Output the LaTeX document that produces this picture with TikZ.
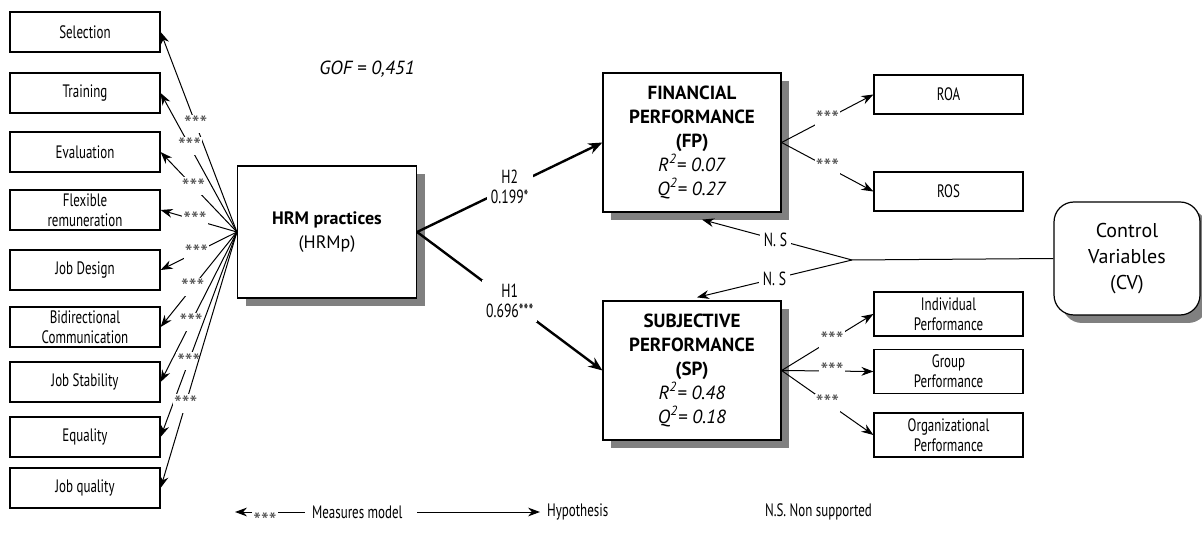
\documentclass[tikz,border=0pt]{standalone}
\usepackage{fontspec}
\setmainfont{PT Sans}
\newfontfamily\condfont[FakeStretch=0.72]{PT Sans}
\usetikzlibrary{arrows.meta,shadows}

\begin{document}
\begin{tikzpicture}[x=0.5pt,y=-0.5pt,
  item/.style={draw,line width=0.6pt,minimum width=75pt,minimum height=20pt,inner sep=1pt,align=center,font=\condfont\fontsize{9}{9.8}\selectfont},
  latent/.style={draw,line width=0.6pt,fill=white,align=center,drop shadow={shadow xshift=4pt,shadow yshift=-4pt,fill=black!50,opacity=1}},
  meas/.style={-{Stealth[length=6pt,width=4.4pt]},line width=0.5pt},
  hyp/.style={-{Stealth[length=7pt,width=5.5pt]},line width=1.2pt},
  stars/.style={fill=white,inner sep=0.6pt,text=black!70,font=\fontsize{11}{11}\selectfont},
  lab/.style={fill=white,inner sep=2pt,align=center,font=\condfont\fontsize{9.5}{10}\selectfont}]
\useasboundingbox (0,0) rectangle (1202,533);

\node[item] (sel) at (85,32) {Selection};
\node[item] (train) at (85,93) {Training};
\node[item] (eval) at (85,152) {Evaluation};
\node[item] (flex) at (85,210) {Flexible\\remuneration};
\node[item] (jdes) at (85,270) {Job Design};
\node[item] (bidir) at (85,327) {Bidirectional\\Communication};
\node[item] (stab) at (85,382) {Job Stability};
\node[item] (equal) at (85,437) {Equality};
\node[item] (qual) at (85,488) {Job quality};

\node[latent,minimum width=89.5pt,minimum height=66pt,font=\fontsize{9}{12}\selectfont] (hrm) at (327,232) {\textbf{HRM practices}\\(HRMp)};
\node (gof) at (367,69) {\fontsize{9.5}{11}\selectfont\itshape GOF = 0,451};

\node[latent,minimum width=89pt,minimum height=69.5pt,font=\fontsize{9.5}{12}\selectfont] (fp) at (692,142.5) {\textbf{FINANCIAL}\\\textbf{PERFORMANCE}\\\textbf{(FP)}\\\textit{R\textsuperscript{2}= 0.07}\\\textit{Q\textsuperscript{2}= 0.27}};
\node[latent,minimum width=89pt,minimum height=69.5pt,font=\fontsize{9.5}{12}\selectfont] (sp) at (692,370.5) {\textbf{SUBJECTIVE}\\\textbf{PERFORMANCE}\\\textbf{(SP)}\\\textit{R\textsuperscript{2}= 0.48}\\\textit{Q\textsuperscript{2}= 0.18}};

\node[item,minimum width=74.5pt,minimum height=19.5pt] (roa) at (948.5,94.5) {ROA};
\node[item,minimum width=74.5pt,minimum height=19.5pt] (ros) at (948.5,191.5) {ROS};
\node[item,minimum width=74.5pt,minimum height=22pt] (indiv) at (948.5,314) {Individual\\Performance};
\node[item,minimum width=74.5pt,minimum height=22pt] (group) at (948.5,371.5) {Group\\Performance};
\node[item,minimum width=74.5pt,minimum height=22pt] (org) at (948.5,435) {Organizational\\Performance};

\node[latent,rounded corners=10pt,minimum width=73pt,minimum height=56.5pt,font=\fontsize{10}{13}\selectfont] (cv) at (1127,258.5) {Control\\Variables\\(CV)};

\draw[meas] (hrm.west) -- node[stars,pos=0.54]{***} (sel.east);
\draw[meas] (hrm.west) -- node[stars,pos=0.62]{***} (train.east);
\draw[meas] (hrm.west) -- node[stars,pos=0.57]{***} (eval.east);
\draw[meas] (hrm.west) -- node[stars,pos=0.55]{***} (flex.east);
\draw[meas] (hrm.west) -- node[stars,pos=0.53]{***} (jdes.east);
\draw[meas] (hrm.west) -- node[stars,pos=0.58]{***} (bidir.east);
\draw[meas] (hrm.west) -- node[stars,pos=0.6]{***} (stab.east);
\draw[meas] (hrm.west) -- node[stars,pos=0.63]{***} (equal.east);
\draw[meas] (hrm.west) -- node[stars,pos=0.67]{***} (qual.east);

\draw[hyp] (hrm.east) -- node[lab]{H2\\0.199*} (fp.west);
\draw[hyp] (hrm.east) -- node[lab]{H1\\0.696***} (sp.west);

\draw[meas] (fp.east) -- node[stars]{***} (roa.west);
\draw[meas] (fp.east) -- node[stars]{***} (ros.west);
\draw[meas] (sp.east) -- node[stars,pos=0.55]{***} (indiv.west);
\draw[meas] (sp.east) -- node[stars,pos=0.55]{***} (group.west);
\draw[meas] (sp.east) -- node[stars,pos=0.5]{***} (org.west);

\coordinate (cvj) at (852,260);
\draw[line width=0.5pt] (cv.west) -- (cvj);
\draw[meas] (cvj) -- node[lab,pos=0.51]{N. S} ([xshift=5pt,yshift=-3.5pt]fp.south);
\draw[meas] (cvj) -- node[lab,pos=0.5]{N. S} ([xshift=2.5pt,yshift=1.5pt]sp.north);

% legend
\node[anchor=west,font=\condfont\fontsize{9}{10}\selectfont] (lgmeas) at (305,512) {Measures model};
\node[stars,fill=none] (lgstar) at (265,521) {***};
\coordinate (lga) at (252,512);
\coordinate (lgtip) at (235,512);
\coordinate (lgb) at (278,512);
\draw[meas] (lga) -- (lgtip);
\draw[line width=0.5pt] (lgb) -- (lgmeas.west);
\node[anchor=west,font=\condfont\fontsize{9}{10}\selectfont] (lghyp) at (540,512) {Hypothesis};
\coordinate (lgc) at (417,512);
\draw[meas] (lgc) -- (lghyp.west);
\node[anchor=west,font=\condfont\fontsize{9}{10}\selectfont] (lgns) at (758,512) {N.S. Non supported};
\end{tikzpicture}
\end{document}
